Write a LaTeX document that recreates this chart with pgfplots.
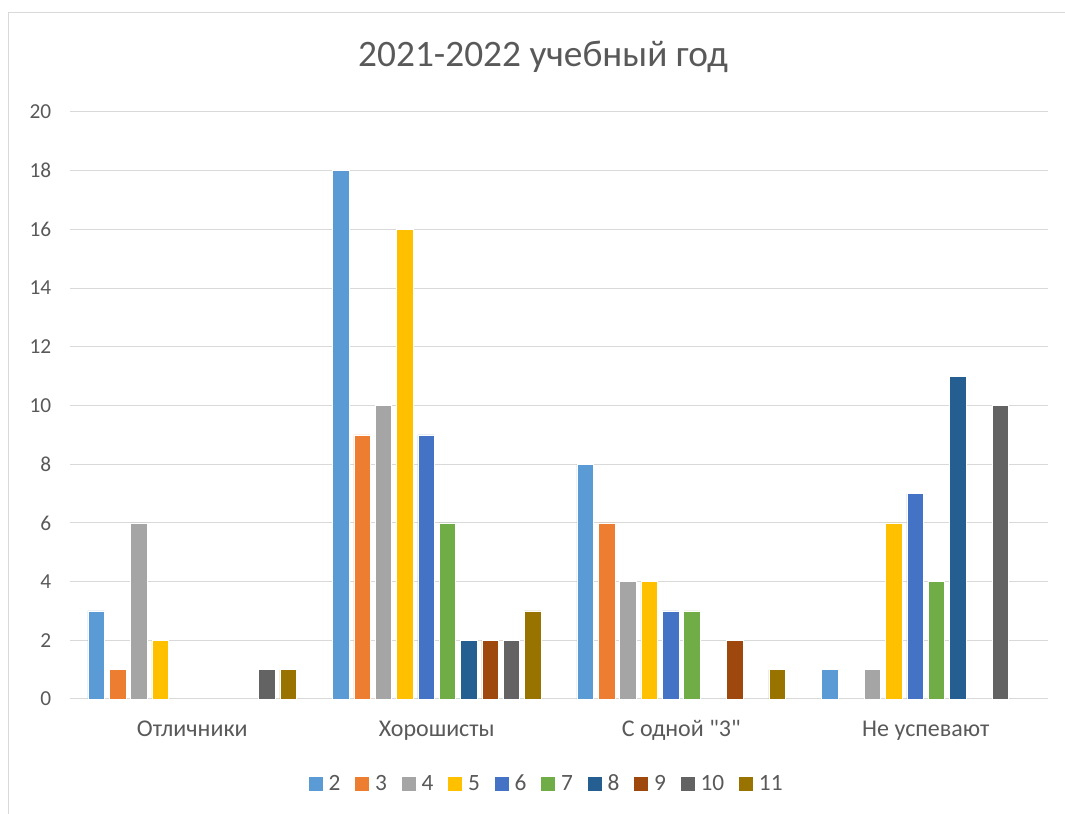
\documentclass[border=0pt]{standalone}
\usepackage{fontspec}
\setmainfont{Carlito}[Ligatures=TeXOff]
\usepackage{pgfplots}
\pgfplotsset{compat=1.18}

\definecolor{txt}{HTML}{595959}
\definecolor{gridc}{HTML}{D9D9D9}
\definecolor{c2}{HTML}{5B9BD5}
\definecolor{c3}{HTML}{ED7D31}
\definecolor{c4}{HTML}{A5A5A5}
\definecolor{c5}{HTML}{FFC000}
\definecolor{c6}{HTML}{4472C4}
\definecolor{c7}{HTML}{70AD47}
\definecolor{c8}{HTML}{255E91}
\definecolor{c9}{HTML}{9E480E}
\definecolor{c10}{HTML}{636363}
\definecolor{c11}{HTML}{997300}

\begin{document}
\begin{tikzpicture}
% 1 px of the reference = 0.75pt
\path[use as bounding box] (0,0) rectangle (798.75pt,610.5pt);
\draw[gridc, line width=0.75pt] (6pt,0) -- (6pt,600.75pt) -- (798.75pt,600.75pt);
\node[anchor=base, text=txt, font=\fontsize{28}{33}\selectfont] at (407.25pt,560.25pt) {2021-2022 учебный год};

\begin{axis}[
    at={(52.5pt,86.25pt)}, anchor=south west,
    scale only axis,
    width=733.5pt, height=440.25pt,
    ybar=3.6pt, bar width=12.4pt,
    xmin=-0.5, xmax=3.5,
    ymin=0, ymax=20,
    xtick={0,1,2,3},
    xticklabels={Отличники, Хорошисты, С одной "3", Не успевают},
    ytick={0,2,...,20},
    ymajorgrids,
    grid style={gridc, line width=0.75pt},
    axis line style={draw=none},
    major tick length=0pt,
    tick style={draw=none},
    ticklabel style={text=txt, font=\fontsize{16}{19}\selectfont},
    xticklabel style={anchor=base, yshift=-28.5pt, font=\fontsize{18}{21}\selectfont},
    yticklabel style={xshift=-10.5pt},
    /pgf/number format/assume math mode=true,
    legend columns=10,
    legend style={draw=none, at={(0.4877,-0.144)}, anchor=center,
        font=\fontsize{17.5}{21}\selectfont, text=txt,
        nodes={inner xsep=2pt},
        % tikz counts columns from 1: odd = image, even = text
        /tikz/every odd column/.append style={column sep=2.5pt},
        /tikz/every even column/.append style={column sep=9pt}},
    legend image code/.code={\fill[#1,draw=none] (0pt,-5.25pt) rectangle (10.5pt,5.25pt);},
    every axis plot/.append style={draw=white, line width=0.4pt},
]
\addplot[fill=c2] coordinates {(0,3) (1,18) (2,8) (3,1)};
\addlegendentry{2}
\addplot[fill=c3] coordinates {(0,1) (1,9) (2,6)};
\addlegendentry{3}
\addplot[fill=c4] coordinates {(0,6) (1,10) (2,4) (3,1)};
\addlegendentry{4}
\addplot[fill=c5] coordinates {(0,2) (1,16) (2,4) (3,6)};
\addlegendentry{5}
\addplot[fill=c6] coordinates {(1,9) (2,3) (3,7)};
\addlegendentry{6}
\addplot[fill=c7] coordinates {(1,6) (2,3) (3,4)};
\addlegendentry{7}
\addplot[fill=c8] coordinates {(1,2) (3,11)};
\addlegendentry{8}
\addplot[fill=c9] coordinates {(1,2) (2,2)};
\addlegendentry{9}
\addplot[fill=c10] coordinates {(0,1) (1,2) (3,10)};
\addlegendentry{10}
\addplot[fill=c11] coordinates {(0,1) (1,3) (2,1)};
\addlegendentry{11}
\end{axis}
\end{tikzpicture}
\end{document}
